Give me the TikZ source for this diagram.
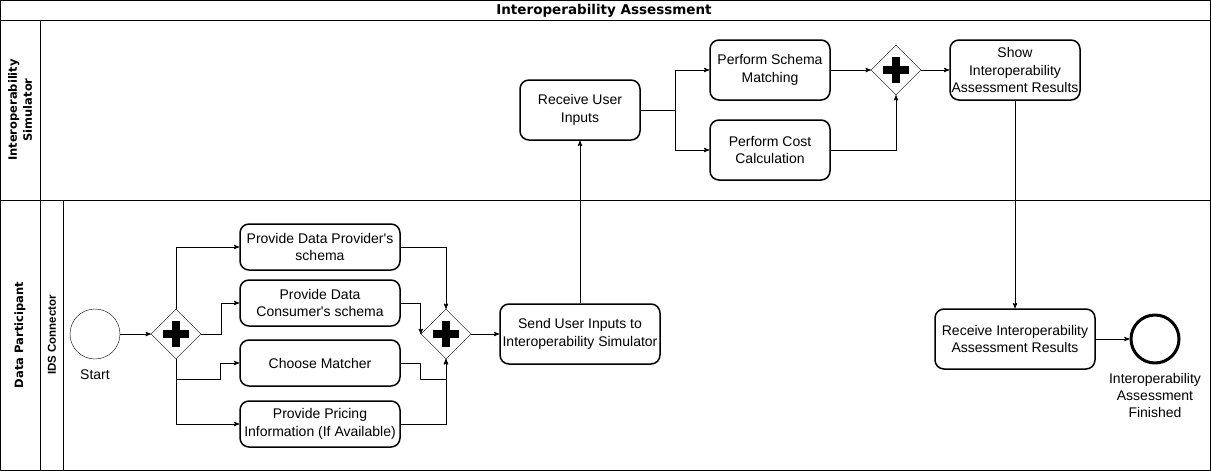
\documentclass[tikz,border=0pt]{standalone}
\usepackage{fontspec}
\setmainfont{Liberation Sans}
\newfontfamily\lanefont{DejaVu Sans}
\usepackage{tikz}
\usetikzlibrary{arrows, calc, positioning, shapes}

\begin{document}
\begin{tikzpicture}[>=stealth', line join=bevel, x=1pt, y=-1pt,
    task/.style={draw, line width=1.5pt, rounded corners=9pt, minimum width=160pt, minimum height=46pt,
                 align=center, inner sep=1pt, font=\fontsize{14}{17.5}\selectfont},
    gate/.style={draw, diamond, minimum width=50pt, minimum height=50pt, inner sep=0pt,
                 path picture={
                   \fill ([shift={(-13pt,-4pt)}]path picture bounding box.center) rectangle ([shift={(13pt,4pt)}]path picture bounding box.center);
                   \fill ([shift={(-4pt,-13pt)}]path picture bounding box.center) rectangle ([shift={(4pt,13pt)}]path picture bounding box.center);}},
    event/.style={draw, circle, minimum size=50pt, inner sep=0pt},
    lbl/.style={align=center, inner sep=1pt, font=\fontsize{14}{17}\selectfont},
    lane/.style={rotate=90, align=center, font=\lanefont\bfseries\fontsize{11.5}{15}\selectfont},
    flow/.style={->, line width=.9pt}]
        \useasboundingbox (0,0) rectangle (1211,471);
        % pool and lanes
        \draw (0.5,0.5) rectangle (1210.5,470.5);
        \draw (0.5,20.5) -- (1210.5,20.5);
        \draw (0.5,200.5) -- (1210.5,200.5);
        \draw (40.5,20.5) -- (40.5,470.5);
        \draw (63.5,200.5) -- (63.5,470.5);
        \node[font=\lanefont\bfseries\fontsize{13.5}{16}\selectfont] (title) at (604,11) {Interoperability Assessment};
        \node[lane] (simlane) at (20,110) {Interoperability\\Simulator};
        \node[lane] (partlane) at (20,335) {Data Participant};
        \node[lane, font=\bfseries\fontsize{11.5}{13}\selectfont] (idslane) at (52,335) {IDS Connector};

        % data participant
        \node[event] (start) at (95,334) {};
        \node[lbl, below=9pt of start] (startlbl) {Start};
        \node[gate] (g1) at (176,334) {};
        \node[task] (prov) at (320,247) {Provide Data Provider\textquotesingle s\\schema};
        \node[task] (cons) at (320,303) {Provide Data\\Consumer\textquotesingle s schema};
        \node[task] (match) at (320,363) {Choose Matcher};
        \node[task] (price) at (320,424) {Provide Pricing\\Information (If Available)};
        \node[gate] (g2) at (446,334) {};
        \node[task, minimum height=60pt] (send) at (580,334) {Send User Inputs to\\Interoperability Simulator};
        \node[task, minimum height=60pt] (rres) at (1015,339) {Receive Interoperability\\Assessment Results};
        \node[event, line width=3pt, minimum size=48pt] (finish) at (1155,339) {};
        \node[lbl, below=8pt of finish] (finishlbl) {Interoperability\\Assessment\\Finished};

        % simulator
        \node[task, minimum width=120pt, minimum height=60pt] (recv) at (580,110) {Receive User\\Inputs};
        \node[task, minimum width=120pt, minimum height=60pt] (schema) at (770,70) {Perform Schema\\Matching};
        \node[task, minimum width=120pt, minimum height=60pt] (cost) at (770,150) {Perform Cost\\Calculation};
        \node[gate] (g3) at (896,70) {};
        \node[task, minimum width=130pt, minimum height=60pt] (show) at (1015,70) {Show\\Interoperability\\Assessment Results};

        % flows
        \draw[flow] (start) -- (g1);
        \draw[flow] (g1.north) |- (prov);
        \draw[flow] (g1.east) -- ++(20,0) |- (cons);
        \draw[flow] (g1.south) -- ++(0,20) -| ([xshift=-19pt]match.west) -- (match);
        \draw[flow] (g1.south) |- (price);
        \draw[flow] (prov) -| (g2.north);
        \draw[flow] (cons) -| (g2.west);
        \draw[flow] (match.east) -- ++(20,0) |- ([yshift=-20pt]g2.south) -- (g2.south);
        \draw[flow] (price) -| (g2.south);
        \draw[flow] (g2) -- (send);
        \draw[flow] (send) -- (recv);
        \draw[flow] (recv.east) -- ++(35,0) |- (schema);
        \draw[flow] (recv.east) -- ++(35,0) |- (cost);
        \draw[flow] (schema) -- (g3);
        \draw[flow] (cost) -| (g3.south);
        \draw[flow] (g3) -- (show);
        \draw[flow] (show) -- (rres);
        \draw[flow] (rres) -- (finish);
      \end{tikzpicture}
\end{document}
